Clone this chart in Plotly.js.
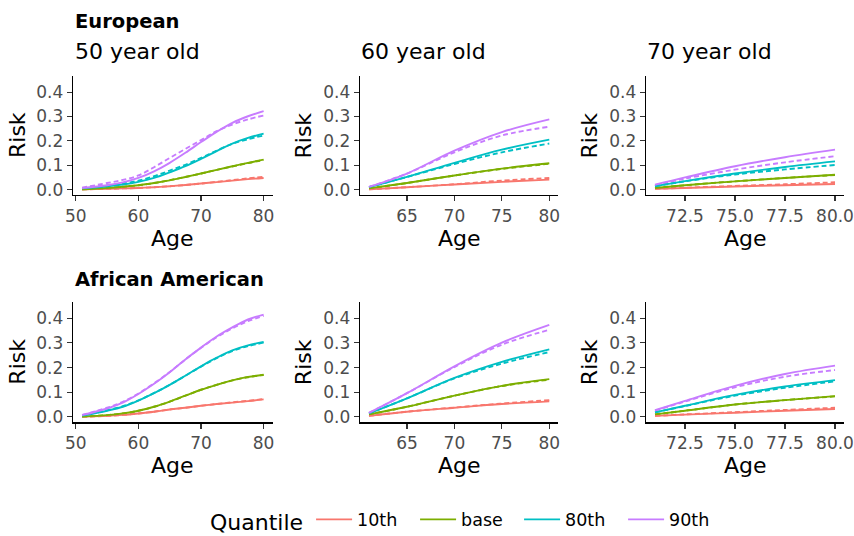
<!DOCTYPE html>
<html>
<head>
<meta charset="utf-8">
<script src="https://cdn.plot.ly/plotly-3.0.1.min.js"></script>
<style>html,body{margin:0;padding:0;background:#fff}#chart{width:854px;height:536px}</style>
</head>
<body>
<div id="chart"></div>
<script>
// ---- data ----
const quantiles = ["10th", "base", "80th", "90th"];
const colors = ["#F8766D", "#7CAE00", "#00BFC4", "#C77CFF"];

const ages50 = [51, 55, 57.5, 60, 62.5, 65, 67.5, 70, 72.5, 75, 77.5, 80];
const ages60 = [61, 65, 70, 75, 80];
const ages70 = [71, 72.5, 75, 77.5, 80];

// European, 50 year old (solid / dashed)
const eu50_10 = [0.001, 0.003, 0.005, 0.007, 0.010, 0.014, 0.019, 0.025, 0.031, 0.037, 0.043, 0.048];
const eu50_10d = [0.001, 0.003, 0.005, 0.007, 0.010, 0.014, 0.019, 0.025, 0.032, 0.039, 0.046, 0.052];
const eu50_base = [0.001, 0.007, 0.012, 0.018, 0.027, 0.038, 0.052, 0.066, 0.081, 0.096, 0.110, 0.123];
const eu50_based = [0.001, 0.007, 0.012, 0.018, 0.027, 0.039, 0.052, 0.066, 0.081, 0.095, 0.109, 0.121];
const eu50_80 = [0.005, 0.014, 0.021, 0.032, 0.048, 0.071, 0.096, 0.126, 0.158, 0.189, 0.212, 0.230];
const eu50_80d = [0.006, 0.017, 0.025, 0.037, 0.055, 0.078, 0.102, 0.130, 0.160, 0.188, 0.207, 0.222];
const eu50_90 = [0.007, 0.018, 0.030, 0.048, 0.075, 0.110, 0.151, 0.195, 0.237, 0.274, 0.301, 0.322];
const eu50_90d = [0.008, 0.027, 0.040, 0.058, 0.092, 0.130, 0.167, 0.203, 0.240, 0.267, 0.288, 0.304];

// European, 60 year old
const eu60_10 = [0.001, 0.010, 0.021, 0.032, 0.041];
const eu60_10d = [0.001, 0.010, 0.022, 0.037, 0.048];
const eu60_base = [0.005, 0.027, 0.058, 0.086, 0.108];
const eu60_based = [0.005, 0.027, 0.058, 0.085, 0.106];
const eu60_80 = [0.010, 0.052, 0.110, 0.164, 0.205];
const eu60_80d = [0.010, 0.052, 0.105, 0.153, 0.189];
const eu60_90 = [0.011, 0.066, 0.160, 0.236, 0.288];
const eu60_90d = [0.011, 0.066, 0.153, 0.222, 0.258];

// European, 70 year old
const eu70_10 = [0.003, 0.007, 0.013, 0.018, 0.023];
const eu70_10d = [0.003, 0.008, 0.015, 0.022, 0.030];
const eu70_base = [0.007, 0.018, 0.034, 0.048, 0.061];
const eu70_based = [0.007, 0.018, 0.034, 0.048, 0.060];
const eu70_80 = [0.014, 0.035, 0.066, 0.093, 0.116];
const eu70_80d = [0.014, 0.034, 0.062, 0.083, 0.101];
const eu70_90 = [0.020, 0.050, 0.096, 0.133, 0.164];
const eu70_90d = [0.018, 0.045, 0.082, 0.112, 0.137];

// African American, 50 year old
const aa50_10 = [0.001, 0.004, 0.008, 0.014, 0.021, 0.030, 0.037, 0.045, 0.052, 0.058, 0.064, 0.071];
const aa50_10d = [0.001, 0.004, 0.008, 0.014, 0.021, 0.030, 0.037, 0.045, 0.052, 0.059, 0.065, 0.072];
const aa50_base = [0.001, 0.007, 0.014, 0.025, 0.041, 0.062, 0.086, 0.110, 0.130, 0.148, 0.162, 0.171];
const aa50_based = [0.001, 0.007, 0.014, 0.025, 0.041, 0.062, 0.086, 0.110, 0.130, 0.148, 0.161, 0.170];
const aa50_80 = [0.005, 0.025, 0.041, 0.066, 0.096, 0.130, 0.167, 0.205, 0.240, 0.270, 0.290, 0.304];
const aa50_80d = [0.006, 0.027, 0.043, 0.067, 0.097, 0.130, 0.167, 0.204, 0.238, 0.267, 0.287, 0.301];
const aa50_90 = [0.007, 0.034, 0.058, 0.093, 0.134, 0.181, 0.233, 0.281, 0.326, 0.363, 0.395, 0.415];
const aa50_90d = [0.008, 0.037, 0.061, 0.095, 0.136, 0.182, 0.233, 0.280, 0.323, 0.359, 0.388, 0.410];

// African American, 60 year old
const aa60_10 = [0.004, 0.021, 0.037, 0.052, 0.063];
const aa60_10d = [0.004, 0.021, 0.038, 0.054, 0.068];
const aa60_base = [0.010, 0.041, 0.086, 0.126, 0.153];
const aa60_based = [0.010, 0.041, 0.086, 0.125, 0.151];
const aa60_80 = [0.014, 0.075, 0.158, 0.223, 0.274];
const aa60_80d = [0.014, 0.075, 0.156, 0.216, 0.263];
const aa60_90 = [0.016, 0.096, 0.205, 0.301, 0.373];
const aa60_90d = [0.016, 0.096, 0.202, 0.293, 0.353];

// African American, 70 year old
const aa70_10 = [0.004, 0.009, 0.017, 0.025, 0.032];
const aa70_10d = [0.004, 0.010, 0.019, 0.028, 0.037];
const aa70_base = [0.010, 0.025, 0.050, 0.068, 0.084];
const aa70_based = [0.010, 0.025, 0.050, 0.068, 0.083];
const aa70_80 = [0.018, 0.045, 0.089, 0.123, 0.149];
const aa70_80d = [0.018, 0.044, 0.086, 0.118, 0.144];
const aa70_90 = [0.027, 0.065, 0.126, 0.174, 0.208];
const aa70_90d = [0.025, 0.062, 0.120, 0.163, 0.190];

const panels = [
  {ages: ages50, solid: [eu50_10, eu50_base, eu50_80, eu50_90], dashed: [eu50_10d, eu50_based, eu50_80d, eu50_90d]},
  {ages: ages60, solid: [eu60_10, eu60_base, eu60_80, eu60_90], dashed: [eu60_10d, eu60_based, eu60_80d, eu60_90d]},
  {ages: ages70, solid: [eu70_10, eu70_base, eu70_80, eu70_90], dashed: [eu70_10d, eu70_based, eu70_80d, eu70_90d]},
  {ages: ages50, solid: [aa50_10, aa50_base, aa50_80, aa50_90], dashed: [aa50_10d, aa50_based, aa50_80d, aa50_90d]},
  {ages: ages60, solid: [aa60_10, aa60_base, aa60_80, aa60_90], dashed: [aa60_10d, aa60_based, aa60_80d, aa60_90d]},
  {ages: ages70, solid: [aa70_10, aa70_base, aa70_80, aa70_90], dashed: [aa70_10d, aa70_based, aa70_80d, aa70_90d]}
];

// ---- layout geometry (pixels) ----
const W = 854, H = 536;
const colPx = [[73, 272.7], [360, 558.3], [646, 844]];
const rowPx = [[76, 195], [302, 422.3]];
const xRanges = [[49.55, 81.45], [60.05, 80.95], [70.55, 80.45]];
const FONT = "DejaVu Sans, sans-serif";

const traces = [];
panels.forEach((p, i) => {
  const ax = i === 0 ? "" : String(i + 1);
  for (let q = 0; q < 4; q++) {
    traces.push({
      x: p.ages, y: p.dashed[q], type: "scatter", mode: "lines",
      xaxis: "x" + ax, yaxis: "y" + ax,
      line: {color: colors[q], width: 1.9, dash: "5px,3px", shape: "spline", smoothing: 1},
      legendgroup: quantiles[q], showlegend: false, hoverinfo: "skip"
    });
  }
  for (let q = 0; q < 4; q++) {
    traces.push({
      x: p.ages, y: p.solid[q], type: "scatter", mode: "lines",
      xaxis: "x" + ax, yaxis: "y" + ax, name: quantiles[q],
      line: {color: colors[q], width: 1.9, shape: "spline", smoothing: 1},
      legendgroup: quantiles[q], showlegend: i === 0
    });
  }
});

const layout = {
  width: W, height: H,
  margin: {l: 0, r: 0, t: 0, b: 0, autoexpand: false},
  paper_bgcolor: "#fff", plot_bgcolor: "#fff",
  font: {family: FONT, color: "#000"},
  showlegend: true,
  legend: {
    orientation: "h", x: 468 / W, xanchor: "center", y: 1 - 521 / H, yanchor: "middle",
    title: {text: "Quantile", side: "left", font: {size: 22, color: "#000"}},
    font: {size: 17.5, color: "#000"}, itemwidth: 36, entrywidth: 53, entrywidthmode: "pixels",
    traceorder: "normal"
  },
  annotations: []
};

const ann = (text, xpx, ypx, opts) => Object.assign({
  text: text, xref: "paper", yref: "paper", x: xpx / W, y: 1 - ypx / H,
  showarrow: false, font: {family: FONT, size: 22, color: "#000"}
}, opts || {});

for (let i = 0; i < 6; i++) {
  const c = i % 3, r = Math.floor(i / 3);
  const ax = i === 0 ? "" : String(i + 1);
  layout["xaxis" + ax] = {
    domain: [colPx[c][0] / W, colPx[c][1] / W],
    anchor: "y" + ax, range: xRanges[c],
    showgrid: false, zeroline: false, showline: true, linecolor: "#000", linewidth: 1.3,
    ticks: "outside", ticklen: 5, tickwidth: 1.1, tickcolor: "#333",
    tickfont: {size: 17, color: "#4D4D4D", family: FONT},
    dtick: c === 0 ? 10 : (c === 1 ? 5 : 2.5), tick0: 0,
    tickformat: c === 2 ? ".1f" : "d", fixedrange: true
  };
  layout["yaxis" + ax] = {
    domain: [1 - rowPx[r][1] / H, 1 - rowPx[r][0] / H],
    anchor: "x" + ax, range: [-0.022, 0.466],
    showgrid: false, zeroline: false, showline: true, linecolor: "#000", linewidth: 1.3,
    ticks: "outside", ticklen: 5, tickwidth: 1.1, tickcolor: "#333",
    tickfont: {size: 17, color: "#4D4D4D", family: FONT},
    dtick: 0.1, tick0: 0, tickformat: ".1f", fixedrange: true
  };
  const yc = (rowPx[r][0] + rowPx[r][1]) / 2;
  const xc = (colPx[c][0] + colPx[c][1]) / 2;
  const riskX = [17.5, 303, 589][c];
  layout.annotations.push(ann("Risk", riskX, yc, {textangle: -90, xanchor: "center", yanchor: "middle"}));
  layout.annotations.push(ann("Age", xc, r === 0 ? 238 : 465, {xanchor: "center", yanchor: "middle"}));
}

layout.annotations.push(ann("<b>European</b>", 73, 21, {xanchor: "left", yanchor: "middle", font: {family: FONT, size: 19.5, color: "#000"}}));
layout.annotations.push(ann("<b>African American</b>", 73, 279, {xanchor: "left", yanchor: "middle", font: {family: FONT, size: 19.5, color: "#000"}}));
layout.annotations.push(ann("50 year old", 73, 52, {xanchor: "left", yanchor: "middle"}));
layout.annotations.push(ann("60 year old", 359, 52, {xanchor: "left", yanchor: "middle"}));
layout.annotations.push(ann("70 year old", 645, 52, {xanchor: "left", yanchor: "middle"}));

Plotly.newPlot("chart", traces, layout, {displayModeBar: false, staticPlot: true});
</script>
</body>
</html>
